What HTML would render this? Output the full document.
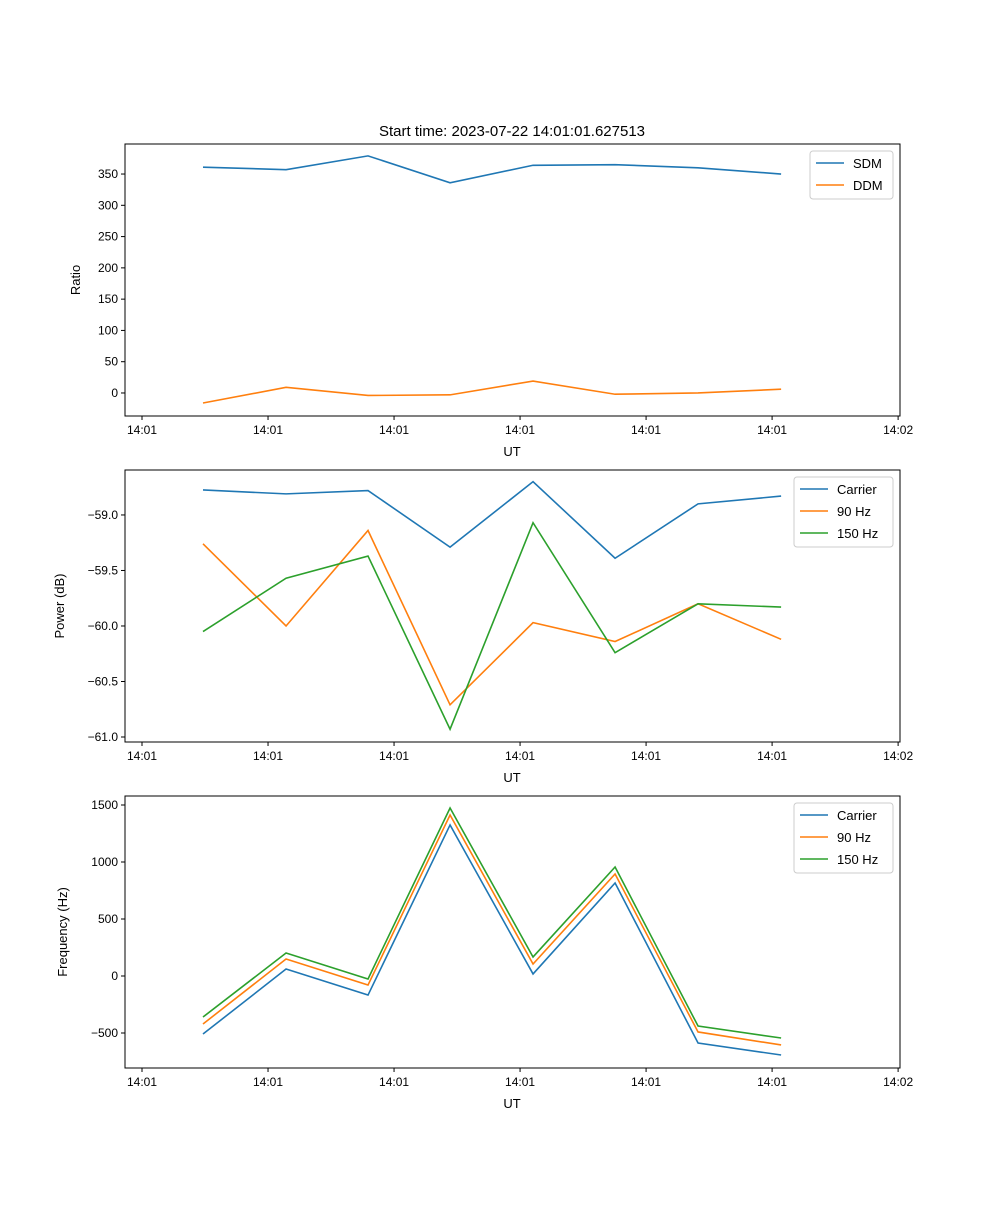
<!DOCTYPE html>
<html><head><meta charset="utf-8"><style>body{margin:0;background:#fff}svg{font-family:"Liberation Sans","DejaVu Sans",sans-serif}</style></head>
<body>
<svg id="fig" width="1000" height="1200" xmlns="http://www.w3.org/2000/svg">
<rect width="1000" height="1200" fill="#fff"/>
<text x="512" y="136" font-size="15" text-anchor="middle">Start time: 2023-07-22 14:01:01.627513</text>
</svg>
<script>
const times=[1.4968,1.6286,1.7587,1.8889,2.0206,2.1508,2.2825,2.4143];
const xTicks=[1.4,1.6,1.8,2.0,2.2,2.4,2.6];
const xTickLabels=["14:01","14:01","14:01","14:01","14:01","14:01","14:02"];
const sdm=[361,357,379,336,364,365,360,350];
const ddm=[-16,9,-4,-3,19,-2,0,6];
const pCarrier=[-58.775,-58.81,-58.78,-59.29,-58.70,-59.39,-58.90,-58.83];
const p90=[-59.26,-60.0,-59.14,-60.71,-59.97,-60.14,-59.80,-60.12];
const p150=[-60.05,-59.57,-59.37,-60.93,-59.07,-60.24,-59.80,-59.83];
const fCarrier=[-509,61,-167,1325,18,816,-588,-693];
const f90=[-421,149,-79,1412,105,895,-491,-605];
const f150=[-360,202,-26,1474,167,956,-439,-544];
const ticks1=[0,50,100,150,200,250,300,350];
const ticks2=[-61.0,-60.5,-60.0,-59.5,-59.0];
const ticks3=[-500,0,500,1000,1500];
const C=['#1f77b4','#ff7f0e','#2ca02c'];
const svg=document.getElementById('fig');
const NS='http://www.w3.org/2000/svg';
function mk(t,a,p){const e=document.createElementNS(NS,t);for(const k in a)e.setAttribute(k,a[k]);(p||svg).appendChild(e);return e;}
const X0=125,X1=900,T0=1.373,T1=2.603;
const xs=t=>X0+(t-T0)/(T1-T0)*(X1-X0);
function panel(top,bot,ymin,ymax,yt,fmt,ylabel,series,names,leg,key){
  const g=mk('g',{});
  
  
  const ys=v=>bot-(v-ymin)/(ymax-ymin)*(bot-top);
  xTicks.forEach((t,i)=>{const x=xs(t);
    mk('line',{x1:x,x2:x,y1:bot,y2:bot+4,stroke:'#000'},g);
    const tx=mk('text',{x:x,y:bot+18,'font-size':12,'text-anchor':'middle'},g);tx.textContent=xTickLabels[i];
    
    });
  yt.forEach(v=>{const y=ys(v);
    mk('line',{x1:X0-4,x2:X0,y1:y,y2:y,stroke:'#000'},g);
    const tx=mk('text',{x:X0-7,y:y+4,'font-size':12,'text-anchor':'end'},g);tx.textContent=fmt(v);
    
    });
  series.forEach((s,i)=>{
    const pl=mk('polyline',{points:s.map((v,j)=>xs(times[j])+','+ys(v)).join(' '),fill:'none',stroke:C[i],'stroke-width':1.6},g);
    
    });
  mk('rect',{x:X0,y:top,width:X1-X0,height:bot-top,fill:'none',stroke:'#000'},g);
  const xl=mk('text',{x:512,y:bot+40,'font-size':13,'text-anchor':'middle'},g);xl.textContent='UT';
  
  
  const yl=mk('text',{x:0,y:0,'font-size':13,'text-anchor':'middle',transform:`translate(${leg.yx},${(top+bot)/2}) rotate(-90)`},g);yl.textContent=ylabel;
  
  
  const lg=mk('g',{},g);
  
  
  mk('rect',{x:leg.x,y:top+7,width:893-leg.x,height:names.length*22+4,fill:'#fff',stroke:'#ccc',rx:3},lg);
  names.forEach((n,i)=>{const y=top+19+i*22;
    mk('line',{x1:leg.x+6,x2:leg.x+34,y1:y,y2:y,stroke:C[i],'stroke-width':1.6},lg);
    const t=mk('text',{x:leg.x+43,y:y+5,'font-size':13},lg);t.textContent=n;
    
    });
}
panel(144,416,-36.8,398,ticks1,v=>String(v),'Ratio',[sdm,ddm],['SDM','DDM'],{x:810,yx:80},'ratio');
panel(470,742,-61.045,-58.595,ticks2,v=>'\u2212'+Math.abs(v).toFixed(1),'Power (dB)',[pCarrier,p90,p150],['Carrier','90 Hz','150 Hz'],{x:794,yx:64},'power');
panel(796,1068,-807,1579,ticks3,v=>v<0?'\u2212'+Math.abs(v):String(v),'Frequency (Hz)',[fCarrier,f90,f150],['Carrier','90 Hz','150 Hz'],{x:794,yx:67},'frequency');
</script>
</body></html>
